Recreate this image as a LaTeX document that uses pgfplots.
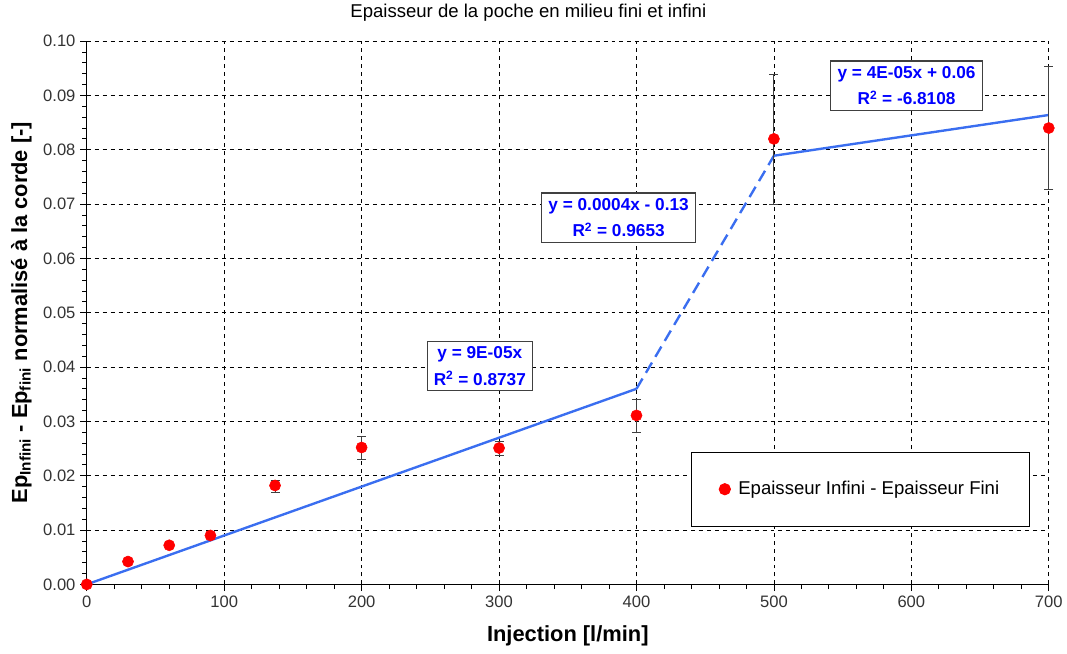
\documentclass[border=0pt]{standalone}
\usepackage{fontspec}
\setmainfont{Liberation Sans}
\usepackage{pgfplots}
\usepackage{pgfplotstable}
\pgfplotsset{compat=1.18}

\definecolor{trend}{RGB}{58,110,240}
\definecolor{ptred}{RGB}{255,0,0}
\definecolor{eqblue}{RGB}{0,0,255}

% x, y, error up, error down
\pgfplotstableread{
x    y       ep      em
0    0.0000  0       0
30   0.0042  0       0
60   0.0072  0       0
90   0.0090  0       0
137  0.0182  0.0009  0.0012
200  0.0252  0.0020  0.0022
300  0.0251  0.0013  0.0014
400  0.0311  0.0030  0.0031
500  0.0820  0.0119  0.0120
700  0.0840  0.0114  0.0113
}\epdata

\tikzset{eqbox/.style={draw=black!75, line width=0.8pt, fill=white, text=eqblue,
  font=\fontsize{13}{20}\selectfont\bfseries, align=center, inner xsep=5pt, inner ysep=4pt}}

\begin{document}
\begin{tikzpicture}
\begin{axis}[
  width=726pt, height=410pt, scale only axis,
  xmin=0, xmax=700, ymin=0, ymax=0.1,
  clip=false,
  axis lines=left,
  axis line style={black, line width=0.8pt, -},
  xtick={0,100,200,300,400,500,600,700},
  ytick={0,0.01,0.02,0.03,0.04,0.05,0.06,0.07,0.08,0.09,0.1},
  minor x tick num=4, minor y tick num=4,
  tick align=outside,
  major tick length=5pt, minor tick length=3.5pt,
  tick style={black, line width=0.6pt},
  grid=major,
  major grid style={black, line width=0.6pt, dash pattern=on 3pt off 3pt},
  ticklabel style={font=\fontsize{12.5}{14}\selectfont, color=black!80},
  /pgf/number format/assume math mode=true,
  yticklabel style={/pgf/number format/.cd, fixed, fixed zerofill, precision=2},
  xticklabel style={/pgf/number format/.cd, fixed},
  xlabel={\textbf{Injection [l/min]}},
  xlabel style={font=\fontsize{16.5}{18}\selectfont, at={(axis description cs:0.5,-0.094)}, anchor=center},
  ylabel={\textbf{Ep\textsubscript{Infini} - Ep\textsubscript{fini} normalisé à la corde [-]}},
  ylabel style={font=\fontsize{16.5}{18}\selectfont, at={(axis description cs:-0.068,0.5)}, anchor=center},
  title={Epaisseur de la poche en milieu fini et infini},
  title style={font=\fontsize{14}{16}\selectfont, at={(axis description cs:0.459,1.037)}, anchor=center},
  legend style={at={(0.628,0.244)}, anchor=north west, draw=black, line width=0.8pt,
    font=\fontsize{14}{16}\selectfont, inner xsep=21pt, inner ysep=20pt},
  legend cell align=left,
]
\path (rel axis cs:-0.0902,-0.1266) rectangle (rel axis cs:1.0155,1.0752);

\addplot[trend, line width=1.8pt, forget plot] coordinates {(0,0) (400,0.036)};
\addplot[trend, line width=1.8pt, dash pattern=on 9pt off 5pt, forget plot] coordinates {(400,0.036) (500,0.0789)};
\addplot[trend, line width=1.8pt, forget plot] coordinates {(500,0.0789) (700,0.0864)};

\addplot[only marks, mark=*, mark size=4.2pt, mark options={fill=ptred, draw=ptred},
  error bars/.cd, y dir=both, y explicit,
  error bar style={black!75, line width=0.7pt},
  error mark options={rotate=90, mark size=3.4pt, black!75, line width=0.7pt}]
  table[x=x, y=y, y error plus=ep, y error minus=em] {\epdata};
\addlegendentry{\hspace{4pt}Epaisseur Infini - Epaisseur Fini}

\node[eqbox] at (axis cs:286,0.0402) {y = 9E-05x\\R\textsuperscript{2} = 0.8737};
\node[eqbox] at (axis cs:387,0.0675) {y = 0.0004x - 0.13\\R\textsuperscript{2} = 0.9653};
\node[eqbox] at (axis cs:596.5,0.0918) {y = 4E-05x + 0.06\\R\textsuperscript{2} = -6.8108};
\end{axis}
\end{tikzpicture}
\end{document}
